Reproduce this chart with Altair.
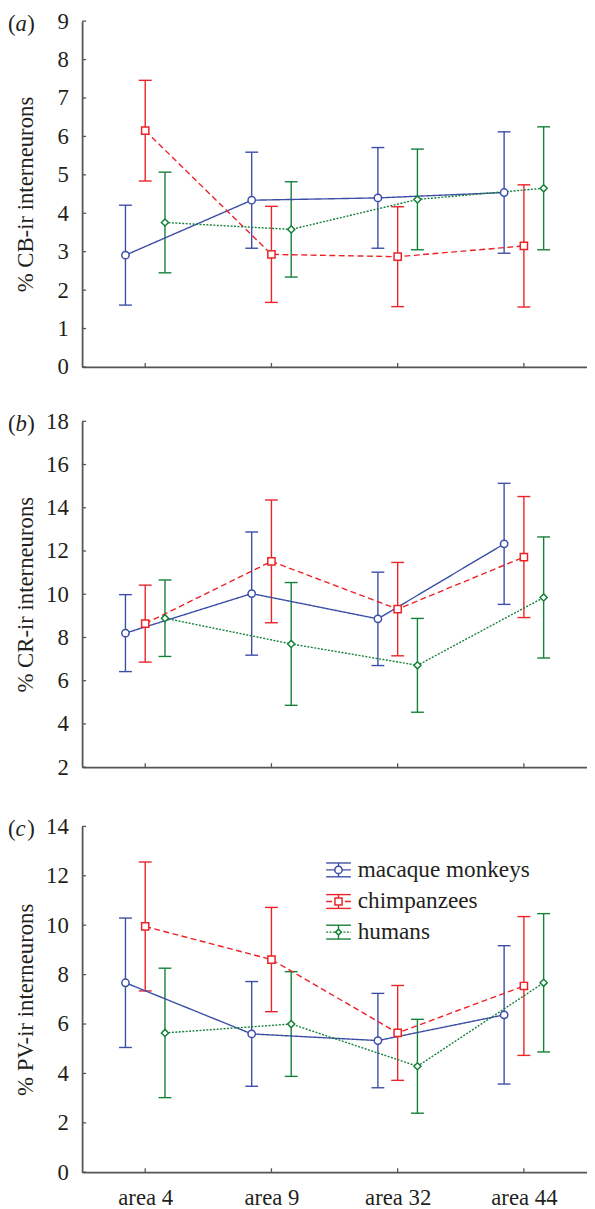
import altair as alt
import pandas as pd

areas = ["area 4", "area 9", "area 32", "area 44"]
series = ["macaque monkeys", "chimpanzees", "humans"]
panel_letters = ["a", "b", "c"]
panel_titles = ["% CB-ir interneurons", "% CR-ir interneurons", "% PV-ir interneurons"]

# (a) CB
cb_macaque_mean = [2.91, 4.34, 4.40, 4.54]
cb_macaque_err = [1.30, 1.25, 1.31, 1.58]
cb_chimp_mean = [6.15, 2.93, 2.87, 3.15]
cb_chimp_err = [1.31, 1.25, 1.30, 1.59]
cb_human_mean = [3.76, 3.58, 4.36, 4.65]
cb_human_err = [1.31, 1.24, 1.31, 1.60]

# (b) CR
cr_macaque_mean = [8.20, 10.03, 8.86, 12.33]
cr_macaque_err = [1.78, 2.85, 2.16, 2.80]
cr_chimp_mean = [8.64, 11.52, 9.31, 11.72]
cr_chimp_err = [1.78, 2.84, 2.16, 2.80]
cr_human_mean = [8.89, 7.70, 6.71, 9.85]
cr_human_err = [1.77, 2.84, 2.17, 2.80]

# (c) PV
pv_macaque_mean = [7.67, 5.60, 5.33, 6.37]
pv_macaque_err = [2.62, 2.12, 1.91, 2.80]
pv_chimp_mean = [9.95, 8.61, 5.64, 7.54]
pv_chimp_err = [2.61, 2.11, 1.92, 2.81]
pv_human_mean = [5.64, 6.00, 4.29, 7.67]
pv_human_err = [2.62, 2.12, 1.90, 2.80]

y_domains = [[0, 9], [2, 18], [0, 14]]
y_ticks = [list(range(0, 10)), list(range(2, 19, 2)), list(range(0, 15, 2))]

colors = ["#3b4ea6", "#ec2227", "#138038"]
dashes = [[1, 0], [6, 3.5], [2, 1.5]]
shapes = ["circle", "square", "diamond"]
sizes = [55, 52, 34]
offsets_px = [-20, 0, 20]

W = 511
H = 350
BAND = W / 4.0
FONT = "Liberation Serif, Times New Roman, DejaVu Serif, serif"
AXC = "#555555"
TXT = "#231f20"


def make_df(ms, es):
    rows = []
    for s, off, m, e in zip(series, offsets_px, ms, es):
        for i, a in enumerate(areas):
            rows.append(dict(series=s, area=a, idx=i, xpos=i + off / BAND,
                             mean=m[i], lo=m[i] - e[i], hi=m[i] + e[i]))
    return pd.DataFrame(rows)


panel_data = [
    make_df([cb_macaque_mean, cb_chimp_mean, cb_human_mean], [cb_macaque_err, cb_chimp_err, cb_human_err]),
    make_df([cr_macaque_mean, cr_chimp_mean, cr_human_mean], [cr_macaque_err, cr_chimp_err, cr_human_err]),
    make_df([pv_macaque_mean, pv_chimp_mean, pv_human_mean], [pv_macaque_err, pv_chimp_err, pv_human_err]),
]

label_expr = "[" + ",".join("'" + a + "'" for a in areas) + "][datum.value]"


def panel(k):
    df = panel_data[k]
    xscale = alt.Scale(domain=[-0.5, 3.5], nice=False, zero=False)
    yscale = alt.Scale(domain=y_domains[k], nice=False, zero=False)
    last = (k == 2)
    xaxis = alt.Axis(values=[0, 1, 2, 3], labels=last, labelExpr=label_expr, ticks=False,
                     tickSize=0, title=None, domainColor=AXC, domainWidth=1.8,
                     labelFont=FONT, labelFontSize=23, labelColor=TXT, labelPadding=15,
                     grid=False)
    yaxis = alt.Axis(values=y_ticks[k], ticks=False, tickSize=0, title=panel_titles[k],
                     titleX=-50, titleY=H / 2, titleAngle=270, titleAlign="center",
                     titleBaseline="alphabetic", titleFont=FONT, titleFontSize=23,
                     titleFontWeight="normal", titleColor=TXT,
                     domainColor=AXC, domainWidth=1.8, labelFont=FONT, labelFontSize=23,
                     labelColor=TXT, labelPadding=14, grid=False)
    X = alt.X("xpos:Q", scale=xscale, axis=xaxis)
    color = alt.Color("series:N", scale=alt.Scale(domain=series, range=colors), legend=None)
    stroke = alt.Stroke("series:N", scale=alt.Scale(domain=series, range=colors), legend=None)
    dash = alt.StrokeDash("series:N", scale=alt.Scale(domain=series, range=dashes), legend=None)
    shape = alt.Shape("series:N", scale=alt.Scale(domain=series, range=shapes), legend=None)
    size = alt.Size("series:N", scale=alt.Scale(domain=series, range=sizes), legend=None)

    base = alt.Chart(df)
    bars = base.mark_rule(strokeWidth=1.4).encode(
        x=X, y=alt.Y("lo:Q", scale=yscale, axis=yaxis), y2="hi:Q", color=color)
    cap_hi = base.mark_point(shape="M-1,0L1,0", size=169, strokeWidth=1.4, filled=False, opacity=1).encode(
        x=X, y=alt.Y("hi:Q", scale=yscale, axis=yaxis), color=color)
    cap_lo = base.mark_point(shape="M-1,0L1,0", size=169, strokeWidth=1.4, filled=False, opacity=1).encode(
        x=X, y=alt.Y("lo:Q", scale=yscale, axis=yaxis), color=color)
    lines = base.mark_line(strokeWidth=1.4).encode(
        x=X, y=alt.Y("mean:Q", scale=yscale, axis=yaxis), color=color, strokeDash=dash,
        order="idx:Q")
    pts = base.mark_point(filled=True, fill="white", strokeWidth=1.5, opacity=1).encode(
        x=X, y=alt.Y("mean:Q", scale=yscale, axis=yaxis), stroke=stroke, shape=shape, size=size)

    ytick_df = pd.DataFrame({"v": y_ticks[k]})
    yt = alt.Chart(ytick_df).mark_rule(color=AXC, strokeWidth=1.3).encode(
        y=alt.Y("v:Q", scale=yscale, axis=yaxis), x=alt.value(0), x2=alt.value(4))
    xtick_df = pd.DataFrame({"i": list(range(len(areas)))})
    xt = alt.Chart(xtick_df).mark_rule(color=AXC, strokeWidth=1.3).encode(
        x=alt.X("i:Q", scale=xscale, axis=xaxis), y=alt.value(H), y2=alt.value(H - 4))

    lab_df = pd.DataFrame({"p1": ["("], "l": [panel_letters[k]], "p2": [")"]})
    lb = alt.Chart(lab_df)
    t1 = lb.mark_text(align="left", baseline="alphabetic", font=FONT, fontSize=23, color=TXT).encode(
        x=alt.value(-75), y=alt.value(10), text="p1:N")
    t2 = lb.mark_text(align="left", baseline="alphabetic", font=FONT, fontSize=23, fontStyle="italic",
                      color=TXT).encode(x=alt.value(-67.3), y=alt.value(10), text="l:N")
    t3 = lb.mark_text(align="left", baseline="alphabetic", font=FONT, fontSize=23, color=TXT).encode(
        x=alt.value(-55.5), y=alt.value(10), text="p2:N")

    layers = [yt, xt, bars, cap_hi, cap_lo, lines, pts, t1, t2, t3]

    if last:
        rows_y = [44, 76, 107]
        for s, c, d, sh, sz, ry in zip(series, colors, dashes, shapes, sizes, rows_y):
            ld = alt.Chart(pd.DataFrame({"series": [s]}))
            layers += [
                ld.mark_rule(color=c, strokeWidth=1.4).encode(
                    x=alt.value(247), x2=alt.value(272), y=alt.value(ry - 7)),
                ld.mark_rule(color=c, strokeWidth=1.4).encode(
                    x=alt.value(247), x2=alt.value(272), y=alt.value(ry + 7)),
                ld.mark_rule(color=c, strokeWidth=1.4, strokeDash=d).encode(
                    x=alt.value(247), x2=alt.value(272), y=alt.value(ry)),
                ld.mark_rule(color=c, strokeWidth=1.4).encode(
                    x=alt.value(259.5), y=alt.value(ry - 7), y2=alt.value(ry + 7)),
                ld.mark_point(shape=sh, size=sz, filled=True, fill="white", stroke=c,
                              strokeWidth=1.5, opacity=1).encode(
                    x=alt.value(259.5), y=alt.value(ry)),
                ld.mark_text(align="left", baseline="middle", font=FONT, fontSize=23.5,
                             color=TXT).encode(x=alt.value(279), y=alt.value(ry), text="series:N"),
            ]

    return alt.layer(*layers).properties(width=W, height=H)


top = alt.vconcat(panel(0), panel(1), spacing=32)
chart = alt.vconcat(top, panel(2), spacing=37).properties(
    padding={"left": 0, "top": -5, "right": 0, "bottom": 0}
).configure_view(stroke=None)

chart.save("out.html", embed_options={"renderer": "svg", "actions": False})
